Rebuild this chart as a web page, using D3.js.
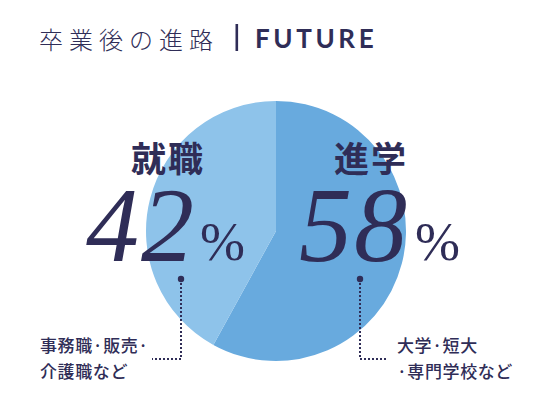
<!DOCTYPE html>
<html>
<head>
<meta charset="utf-8">
<script src="https://cdn.jsdelivr.net/npm/d3@7"></script>
<style>
  html, body { margin: 0; padding: 0; background: #fff; }
  svg { display: block; }
</style>
</head>
<body>
<svg id="chart" width="551" height="419"></svg>
<script>
// Career paths after graduation
const categories = ["進学", "就職"];
const values = [58, 42];
const details = [
  ["大学·短大", "·専門学校など"],
  ["事務職·販売·", "介護職など"]
];
const titleJa = "卒業後の進路";
const titleEn = "FUTURE";

const ink = "#2f2d57";
const sliceColors = ["#68aade", "#8ec3ea"];
const jaFont = "'Noto Sans CJK JP', 'Noto Sans', sans-serif";
const serif = "'Liberation Serif', 'DejaVu Serif', serif";

const svg = d3.select("#chart");

// Title
svg.append("text")
  .attr("x", 39).attr("y", 49)
  .attr("font-family", jaFont)
  .attr("font-weight", 300)
  .attr("font-size", 24)
  .attr("letter-spacing", 6)
  .attr("fill", ink)
  .text(titleJa);
svg.append("rect")
  .attr("x", 235.5).attr("y", 24).attr("width", 2.6).attr("height", 27)
  .attr("fill", ink);
svg.append("text")
  .attr("x", 255).attr("y", 48)
  .attr("font-family", "Lato, sans-serif")
  .attr("font-weight", 700)
  .attr("font-size", 26)
  .attr("letter-spacing", 3.6)
  .attr("fill", ink)
  .text(titleEn);

// Pie
const cx = 276, cy = 231, r = 130;
const pie = d3.pie().sort(null).value(d => d);
const arc = d3.arc().innerRadius(0).outerRadius(r);
const g = svg.append("g").attr("transform", `translate(${cx},${cy})`);
g.selectAll("path")
  .data(pie(values))
  .join("path")
  .attr("d", arc)
  .attr("fill", (d, i) => sliceColors[i]);

// Labels: name, percentage, leader line and detail text for each slice
const labelLayout = [
  { cx: 371, num: 299, pct: 415, dot: 360, elbow: 388, text: 397 },
  { cx: 168, num: 86,  pct: 200, dot: 181, elbow: 152, text: 40 }
];

categories.forEach((name, i) => {
  const L = labelLayout[i];
  svg.append("text")
    .attr("x", L.cx).attr("y", 172)
    .attr("text-anchor", "middle")
    .attr("font-family", jaFont)
    .attr("font-weight", 700)
    .attr("font-size", 35)
    .attr("letter-spacing", 2)
    .attr("fill", ink)
    .text(name);

  svg.append("text")
    .attr("x", L.num).attr("y", 261)
    .attr("font-family", serif)
    .attr("font-style", "italic")
    .attr("font-size", 106)
    .attr("letter-spacing", 2)
    .attr("fill", ink)
    .text(values[i]);

  svg.append("text")
    .attr("x", L.pct).attr("y", 260)
    .attr("font-family", serif)
    .attr("font-size", 54)
    .attr("fill", ink)
    .text("%");

  svg.append("circle")
    .attr("cx", L.dot).attr("cy", 279).attr("r", 3.2)
    .attr("fill", ink);
  svg.append("path")
    .attr("d", `M${L.dot},283 V359 H${L.elbow}`)
    .attr("fill", "none")
    .attr("stroke", ink)
    .attr("stroke-width", 2)
    .attr("stroke-dasharray", "2,2");

  details[i].forEach((line, j) => {
    svg.append("text")
      .attr("x", L.text).attr("y", 352 + j * 26)
      .attr("font-family", jaFont)
      .attr("font-weight", 500)
      .attr("font-size", 17)
      .attr("letter-spacing", 0.6)
      .attr("fill", ink)
      .text(line);
  });
});
</script>
</body>
</html>
